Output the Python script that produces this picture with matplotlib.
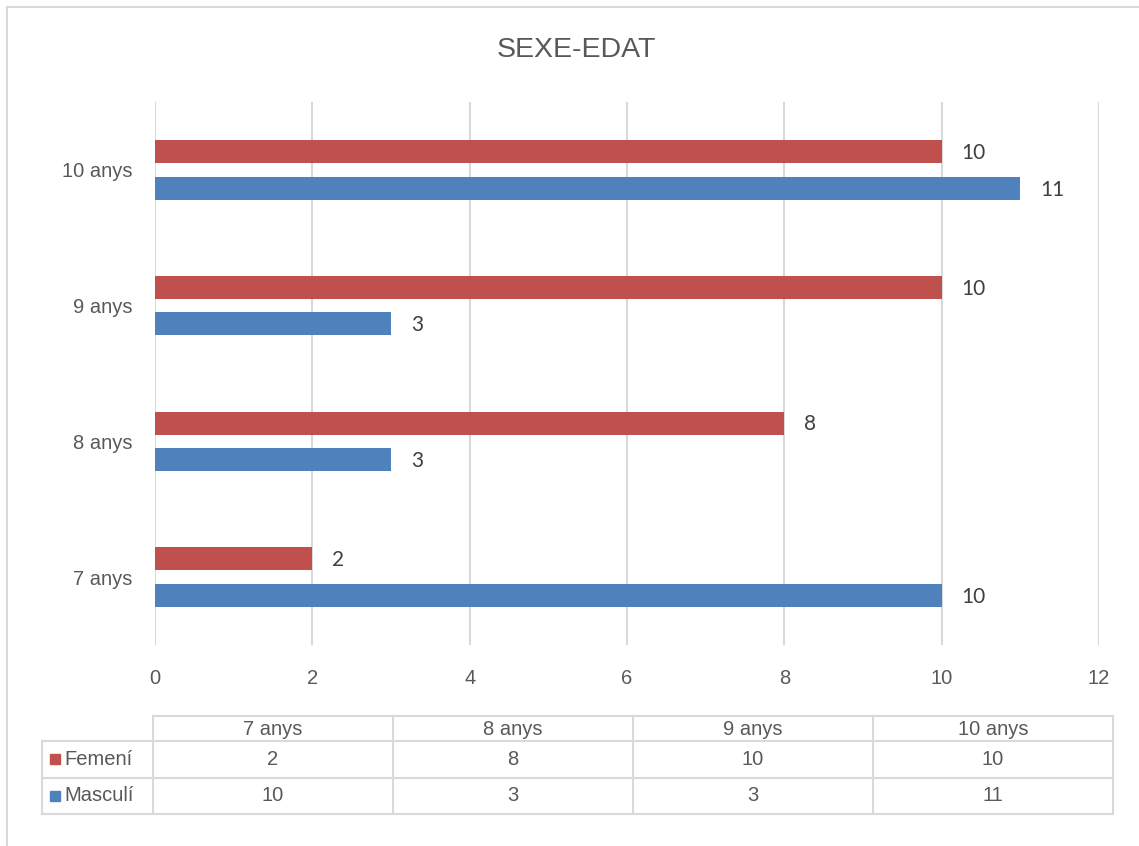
import numpy as np
import matplotlib.pyplot as plt
from matplotlib.patches import Rectangle

categories = ["7 anys", "8 anys", "9 anys", "10 anys"]
series = ["Femení", "Masculí"]
femeni = [2, 8, 10, 10]
masculi = [10, 3, 3, 11]
xticks = [0, 2, 4, 6, 8, 10, 12]

red = "#C0504D"
blue = "#4F81BD"
grid_c = "#D9D9D9"
txt = "#595959"

W, H = 1139, 846
fig = plt.figure(figsize=(W / 100, H / 100), dpi=100)
plt.rcParams['font.family'] = ['Liberation Sans', 'DejaVu Sans']

# outer chart frame
fig.add_artist(Rectangle((7 / W, -0.1), 1.1, (H - 7) / H + 0.1, transform=fig.transFigure,
                         fill=False, edgecolor=grid_c, lw=1.5))

# main bar chart
ax = fig.add_axes([155 / W, 1 - 645 / H, (1099 - 155) / W, (645 - 102) / H])
y = np.arange(len(categories))
h = 0.17
off = 0.135
ax.barh(y + off, femeni, height=h, color=red)
ax.barh(y - off, masculi, height=h, color=blue)
for i in range(len(categories)):
    ax.text(femeni[i] + 0.25, y[i] + off - 0.01, str(femeni[i]), va="center", ha="left",
            fontsize=15, color="#404040", family="Lato")
    ax.text(masculi[i] + 0.25, y[i] - off - 0.01, str(masculi[i]), va="center", ha="left",
            fontsize=15, color="#404040", family="Lato")

ax.set_xlim(0, 12)
ax.set_ylim(-0.5, 3.5)
ax.set_xticks(xticks)
ax.set_yticks(y)
ax.set_yticklabels(categories)
ax.grid(axis="x", color=grid_c, lw=1.5)
ax.set_axisbelow(True)
for s in ax.spines.values():
    s.set_visible(False)
ax.tick_params(length=0, labelsize=14.5, labelcolor=txt)
ax.tick_params(axis="x", pad=17)
ax.tick_params(axis="y", pad=16)

fig.text((493 + 660) / 2 / W, 1 - 50 / H, "SEXE-EDAT", ha="center", va="center",
         fontsize=20.5, color=txt)

# data table under the chart
tx = fig.add_axes([42 / W, 1 - 814 / H, (1112 - 42) / W, (814 - 716) / H])
tx.set_xlim(0, 1070)
tx.set_ylim(98, 0)
tx.axis("off")
lab_w = 111
col_w = 240
rows = [0, 25, 61.5, 98]
lc = dict(color=grid_c, lw=1.5, clip_on=False)
# horizontal lines
tx.plot([lab_w, 1070], [0, 0], **lc)
for r in rows[1:]:
    tx.plot([0, 1070], [r, r], **lc)
# vertical lines
tx.plot([0, 0], [rows[1], 98], **lc)
for c in range(len(categories) + 1):
    xc = lab_w + c * col_w
    tx.plot([xc, xc], [0, 98], **lc)
for c, cat in enumerate(categories):
    xc = lab_w + (c + 0.5) * col_w
    tx.text(xc, rows[0] + 13.5, cat, ha="center", va="center", fontsize=14.5, color=txt)
    tx.text(xc, (rows[1] + rows[2]) / 2, str(femeni[c]), ha="center", va="center",
            fontsize=14.5, color=txt)
    tx.text(xc, (rows[2] + rows[3]) / 2, str(masculi[c]), ha="center", va="center",
            fontsize=14.5, color=txt)
for k, (name, col) in enumerate(zip(series, [red, blue])):
    yc = (rows[k + 1] + rows[k + 2]) / 2
    tx.plot([13], [yc], marker="s", ms=7.5, color=col, linestyle="none", clip_on=False)
    tx.text(22, yc, name, ha="left", va="center", fontsize=14.5, color=txt)

fig.savefig("out.png", dpi=100)
